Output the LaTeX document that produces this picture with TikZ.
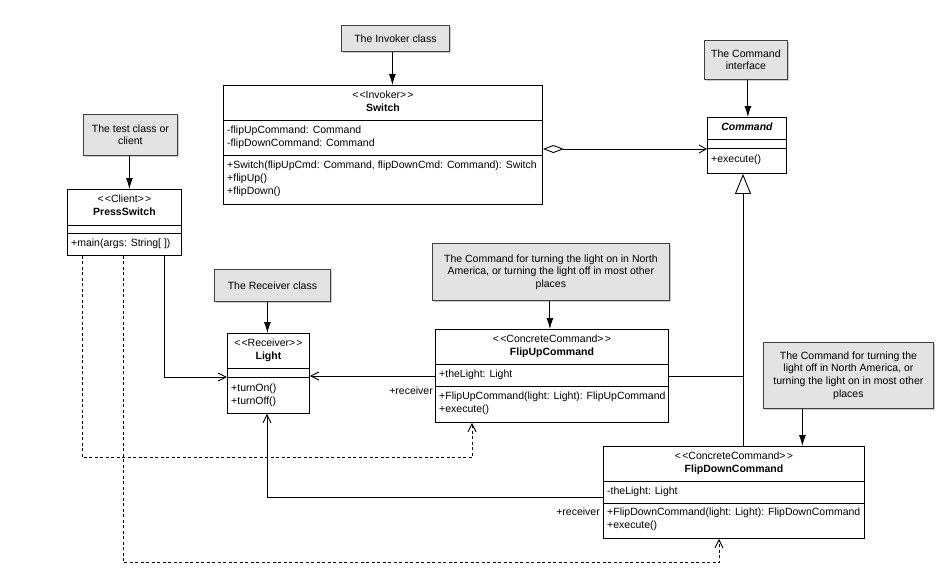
\documentclass[tikz,border=0pt]{standalone}
\usepackage{fontspec}
\setmainfont{Liberation Sans}
\usetikzlibrary{arrows.meta,calc,shadows}
\newcommand\umlfont{\fontsize{10.5}{12.6}\selectfont}
\newcommand\stl{<\kern1.2pt<}
\newcommand\str{>\kern1.2pt>}
\begin{document}
\begin{tikzpicture}[x=1pt,y=-1pt,
  cls/.style={draw=black, line width=0.9pt, fill=white, anchor=north west, inner sep=0pt, rectangle},
  note/.style={draw=black!75, fill=black!11, line width=0.8pt, anchor=north west, inner sep=0pt, align=center, font=\umlfont,
    drop shadow={shadow xshift=2pt, shadow yshift=-2pt, fill=black!40, opacity=0.5}},
  txt/.style={inner sep=0pt, font=\umlfont, anchor=mid west},
  ctr/.style={inner sep=0pt, font=\umlfont, anchor=mid},
  nm/.style={inner sep=0pt, font=\umlfont\bfseries, anchor=mid},
  sep/.style={line width=0.9pt},
  notearrow/.style={line width=0.9pt, -{Latex[length=11pt,width=7pt]}},
  assoc/.style={line width=0.9pt, -{Straight Barb[length=8pt,width=8pt]}},
  dep/.style={line width=0.9pt, dash pattern=on 3pt off 2.5pt, -{Straight Barb[length=8pt,width=8pt,line width=0.9pt]}},
  aggr/.style={line width=0.9pt, {Diamond[open,length=21pt,width=8pt]}-{Straight Barb[length=7pt,width=8pt]}},
  real/.style={line width=0.9pt, -{Triangle[open,length=20pt,width=16pt,fill=white]}}
]
\fill[white] (0,0) rectangle (944,578);
\useasboundingbox (0,0) rectangle (944,578);

% ---------- notes ----------
\node[note, minimum width=108, minimum height=26] (invnote) at (341,25) {The Invoker class};
\node[note, minimum width=83, minimum height=39] (cmdnote) at (704,40) {The Command\\interface};
\node[note, minimum width=94, minimum height=41] (testnote) at (83,114) {The test class or\\client};
\node[note, minimum width=116, minimum height=32] (recvnote) at (214,269) {The Receiver class};
\node[note, minimum width=237, minimum height=57] (fupnote) at (432,243) {The Command for turning the light on in North\\America, or turning the light off in most other\\places};
\node[note, minimum width=170, minimum height=66] (fdownnote) at (763,342) {The Command for turning the\\light off in North America, or\\turning the light on in most other\\places};

% ---------- Switch ----------
\node[cls, minimum width=319, minimum height=119] (switch) at (223,85) {};
\draw[sep] ($(switch.north west)+(0,35)$) -- ($(switch.north east)+(0,35)$);
\draw[sep] ($(switch.north west)+(0,70)$) -- ($(switch.north east)+(0,70)$);
\node[ctr] (sw-st) at ($(switch.north)+(0,11)$) {\stl Invoker\str};
\node[nm] (sw-nm) at ($(switch.north)+(0,24)$) {Switch};
\node[txt] (sw-a1) at ($(switch.north west)+(4,46)$) {-flipUpCommand: Command};
\node[txt] (sw-a2) at ($(switch.north west)+(4,59)$) {-flipDownCommand: Command};
\node[txt] (sw-m1) at ($(switch.north west)+(4,81)$) {+Switch(flipUpCmd: Command, flipDownCmd: Command): Switch};
\node[txt] (sw-m2) at ($(switch.north west)+(4,94)$) {+flipUp()};
\node[txt] (sw-m3) at ($(switch.north west)+(4,107)$) {+flipDown()};

% ---------- Command ----------
\node[cls, minimum width=79, minimum height=56] (command) at (707,117) {};
\draw[sep] ($(command.north west)+(0,22)$) -- ($(command.north east)+(0,22)$);
\draw[sep] ($(command.north west)+(0,31)$) -- ($(command.north east)+(0,31)$);
\node[nm, font=\umlfont\bfseries\itshape] (cm-nm) at ($(command.north)+(0,11)$) {Command};
\node[txt] (cm-m1) at ($(command.north west)+(4,43)$) {+execute()};

% ---------- PressSwitch ----------
\node[cls, minimum width=114, minimum height=66] (press) at (67,189) {};
\draw[sep] ($(press.north west)+(0,36)$) -- ($(press.north east)+(0,36)$);
\draw[sep] ($(press.north west)+(0,44)$) -- ($(press.north east)+(0,44)$);
\node[ctr] (ps-st) at ($(press.north)+(0,11)$) {\stl Client\str};
\node[nm] (ps-nm) at ($(press.north)+(0,24)$) {PressSwitch};
\node[txt] (ps-m1) at ($(press.north west)+(4,55)$) {+main(args: String[~])};

% ---------- Light ----------
\node[cls, minimum width=82, minimum height=80] (light) at (227,333) {};
\draw[sep] ($(light.north west)+(0,35)$) -- ($(light.north east)+(0,35)$);
\draw[sep] ($(light.north west)+(0,44)$) -- ($(light.north east)+(0,44)$);
\node[ctr] (li-st) at ($(light.north)+(0,11)$) {\stl Receiver\str};
\node[nm] (li-nm) at ($(light.north)+(0,24)$) {Light};
\node[txt] (li-m1) at ($(light.north west)+(4,56)$) {+turnOn()};
\node[txt] (li-m2) at ($(light.north west)+(4,69)$) {+turnOff()};

% ---------- FlipUpCommand ----------
\node[cls, minimum width=233, minimum height=93] (fup) at (435,329) {};
\draw[sep] ($(fup.north west)+(0,35)$) -- ($(fup.north east)+(0,35)$);
\draw[sep] ($(fup.north west)+(0,57)$) -- ($(fup.north east)+(0,57)$);
\node[ctr] (fu-st) at ($(fup.north)+(0,11)$) {\stl ConcreteCommand\str};
\node[nm] (fu-nm) at ($(fup.north)+(0,24)$) {FlipUpCommand};
\node[txt] (fu-a1) at ($(fup.north west)+(4,46)$) {+theLight: Light};
\node[txt] (fu-m1) at ($(fup.north west)+(4,68)$) {+FlipUpCommand(light: Light): FlipUpCommand};
\node[txt] (fu-m2) at ($(fup.north west)+(4,81)$) {+execute()};

% ---------- FlipDownCommand ----------
\node[cls, minimum width=261, minimum height=92] (fdown) at (603,446) {};
\draw[sep] ($(fdown.north west)+(0,35)$) -- ($(fdown.north east)+(0,35)$);
\draw[sep] ($(fdown.north west)+(0,57)$) -- ($(fdown.north east)+(0,57)$);
\node[ctr] (fd-st) at ($(fdown.north)+(0,11)$) {\stl ConcreteCommand\str};
\node[nm] (fd-nm) at ($(fdown.north)+(0,24)$) {FlipDownCommand};
\node[txt] (fd-a1) at ($(fdown.north west)+(4,46)$) {-theLight: Light};
\node[txt] (fd-m1) at ($(fdown.north west)+(4,67)$) {+FlipDownCommand(light: Light): FlipDownCommand};
\node[txt] (fd-m2) at ($(fdown.north west)+(4,80)$) {+execute()};

% ---------- note arrows ----------
\draw[notearrow] ($(invnote.south)+(-3,0)$) coordinate (n1) -- (n1 |- switch.north);
\draw[notearrow] ($(cmdnote.south)+(2,0)$) coordinate (n2) -- (n2 |- command.north);
\draw[notearrow] ($(testnote.south)+(-1,0)$) coordinate (n3) -- (n3 |- press.north);
\draw[notearrow] ($(recvnote.south)+(-5,0)$) coordinate (n4) -- (n4 |- light.north);
\draw[notearrow] ($(fupnote.south)+(-1,0)$) coordinate (n5) -- (n5 |- fup.north);
\draw[notearrow] ($(fdownnote.south)+(-46,0)$) coordinate (n6) -- (n6 |- fdown.north);

% ---------- relations ----------
\draw[aggr] ($(switch.north east)+(0,64)$) coordinate (ag) -- (ag -| command.west);
\draw[assoc] ($(press.south west)+(97,0)$) |- ($(light.north west)+(0,44)$);
\draw[assoc] ($(fup.north west)+(0,47)$) coordinate (fl) -- (fl -| light.east);
\node[txt, anchor=mid east] (rcv1) at ($(fup.north west)+(-2,63)$) {+receiver};
\draw[assoc] ($(fdown.north west)+(0,51)$) -| ($(light.south west)+(40,0)$);
\node[txt, anchor=mid east] (rcv2) at ($(fdown.north west)+(-3,67)$) {+receiver};
\draw[real] ($(fdown.north west)+(140,0)$) coordinate (r0) -- (r0 |- command.south);
\draw[sep] ($(fup.north east)+(0,47)$) coordinate (fr) -- (fr -| r0);
\draw[dep] ($(press.south west)+(15,0)$) |- ($(fup.south west)+(37,35)$) -- ($(fup.south west)+(37,0)$);
\draw[dep] ($(press.south west)+(56,0)$) |- ($(fdown.south west)+(116,24)$) -- ($(fdown.south west)+(116,0)$);
\end{tikzpicture}
\end{document}
